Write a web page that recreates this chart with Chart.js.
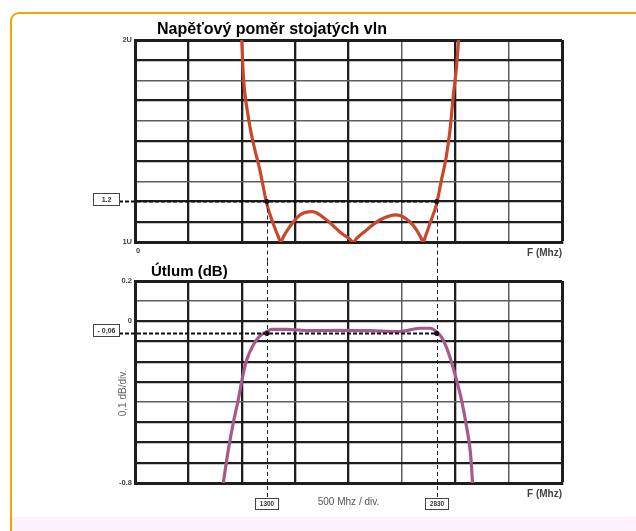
<!DOCTYPE html>
<html lang="cs">
<head>
<meta charset="utf-8">
<script src="https://cdn.jsdelivr.net/npm/chart.js@4.4.0/dist/chart.umd.min.js"></script>
<style>
  html, body { margin: 0; padding: 0; background: #fff; }
  body { width: 636px; height: 531px; position: relative; overflow: hidden; }
  #ramecek { position: absolute; left: 10px; top: 12px; width: 700px; height: 600px;
             border: 2px solid #f2a400; border-radius: 9px; box-sizing: border-box; }
  #pas { position: absolute; left: 12px; top: 517px; width: 624px; height: 14px; background: #fdf1fb; }
  canvas { position: absolute; left: 0; }
  #grafSwr { top: 0; }
  #grafUtlum { top: 262px; }
</style>
</head>
<body>
<div id="ramecek"></div>
<div id="pas"></div>
<canvas id="grafSwr" width="636" height="262"></canvas>
<canvas id="grafUtlum" width="636" height="269"></canvas>
<script>
// === Data ===
const frekvenceSwr = [1000, 1014, 1061, 1108, 1170, 1234, 1295, 1340, 1364, 1392, 1451, 1545, 1660, 1795, 1919,
  2010, 2044, 2080, 2169, 2294, 2450, 2575, 2637, 2680, 2700, 2722, 2762, 2826, 2872, 2912, 2950, 2981, 3012, 3031];
const hodnotySwr = [2.0, 1.83, 1.62, 1.49, 1.356, 1.19, 1.09, 1.03, 1.0, 1.028, 1.076, 1.134, 1.15, 1.109, 1.05,
  1.015, 1.0, 1.02, 1.06, 1.109, 1.134, 1.10, 1.06, 1.02, 1.0, 1.03, 1.09, 1.19, 1.31, 1.41, 1.55, 1.72, 1.87, 2.0];

const frekvenceUtlum = [827, 874, 920, 967, 1008, 1046, 1108, 1170, 1234, 1280, 1420, 1640, 1900, 2200,
  2480, 2668, 2762, 2826, 2887, 2949, 3012, 3059, 3106, 3143, 3162];
const hodnotyUtlum = [-0.80, -0.637, -0.504, -0.389, -0.274, -0.191, -0.117, -0.072, -0.051, -0.039, -0.039,
  -0.046, -0.044, -0.046, -0.050, -0.034, -0.034, -0.051, -0.092, -0.175, -0.29, -0.389, -0.521, -0.653, -0.80];

// značky: poloha na ose a jejich popisky
const znackyFrekvence = [1235, 2826];
const popiskyFrekvence = ['1300', '2830'];
const urovenSwr = 1.2;
const popisekSwr = '1.2';
const urovenUtlum = -0.06;
const popisekUtlum = '- 0,06';

const popiskySwrOsa = { 2: '2U', 1: '1U' };
const popiskyUtlumOsa = { 0.2: '0.2', 0: '0', '-0.8': '-0.8' };

const nadpisSwr = 'Napěťový poměr stojatých vln';
const nadpisUtlum = 'Útlum (dB)';
const popisOsyX = 'F (Mhz)';
const popisDilku = '500 Mhz / div.';
const popisDilkuY = '0,1 dB/div.';

// === Vzhled ===
const PISMO = '"Liberation Sans", Arial, sans-serif';
const BARVA_SWR = '#c9472d';
const BARVA_UTLUM = '#a65a8b';

function zaokrouhli(v) {
  return Math.round(v * 1000) / 1000;
}

function mrizka(tenke, krajni) {
  return {
    color: c => (c.tick && tenke.includes(zaokrouhli(c.tick.value)) ? '#5e5e5e' : '#1e1e1e'),
    lineWidth: c => {
      if (!c.tick) return 2;
      const v = zaokrouhli(c.tick.value);
      if (krajni.includes(v)) return 3;
      return tenke.includes(v) ? 1.5 : 2.3;
    },
    drawTicks: false,
  };
}

function osaX(sPopiskem, vyska) {
  return {
    type: 'linear',
    min: 0,
    max: 4000,
    afterFit: s => { s.height = vyska; },
    grid: mrizka([2500, 3500], [4000]),
    border: { color: '#1e1e1e', width: 3 },
    ticks: {
      stepSize: 500,
      autoSkip: false,
      maxRotation: 0,
      padding: 4,
      labelOffset: 3,
      display: sPopiskem,
      color: '#444',
      font: { family: PISMO, size: 7.5, weight: 'bold' },
      callback: v => (v === 0 ? '0' : ''),
    },
  };
}

function osaY(min, max, popisky, tenke) {
  return {
    min,
    max,
    afterFit: s => { s.width = 135; },
    grid: mrizka(tenke, [max]),
    border: { color: '#1e1e1e', width: 3 },
    ticks: {
      stepSize: 0.1,
      autoSkip: false,
      padding: 3,
      color: '#444',
      font: { family: PISMO, size: 7.5, weight: 'bold' },
      callback: v => popisky[zaokrouhli(v)] || '',
    },
  };
}

function ramecekPopisku(ctx, text, cx, cy, w, h, velikost) {
  ctx.save();
  ctx.setLineDash([]);
  ctx.fillStyle = '#fff';
  ctx.strokeStyle = '#444';
  ctx.lineWidth = 1;
  const x = Math.round(cx - w / 2) + 0.5;
  const y = Math.round(cy - h / 2) + 0.5;
  ctx.fillRect(x, y, w, h);
  ctx.strokeRect(x, y, w, h);
  ctx.fillStyle = '#333';
  ctx.font = 'bold ' + velikost + 'px ' + PISMO;
  ctx.textAlign = 'center';
  ctx.textBaseline = 'middle';
  ctx.fillText(text, x + w / 2, y + h / 2 + 0.5);
  ctx.restore();
}

function tecka(ctx, x, y) {
  ctx.save();
  ctx.fillStyle = '#111';
  ctx.beginPath();
  ctx.arc(x, y, 2.5, 0, Math.PI * 2);
  ctx.fill();
  ctx.restore();
}

function vodorovnaCara(ctx, x1, x2, y) {
  ctx.save();
  ctx.strokeStyle = '#111';
  ctx.lineWidth = 2;
  ctx.setLineDash([4, 2]);
  ctx.beginPath();
  ctx.moveTo(x1, y);
  ctx.lineTo(x2, y);
  ctx.stroke();
  ctx.restore();
}

function svislaCara(ctx, x, y1, y2) {
  ctx.save();
  ctx.strokeStyle = '#222';
  ctx.lineWidth = 1;
  ctx.setLineDash([4, 3]);
  const px = Math.round(x) + 0.5;
  ctx.beginPath();
  ctx.moveTo(px, y1);
  ctx.lineTo(px, y2);
  ctx.stroke();
  ctx.restore();
}

function popisekF(ctx, area) {
  ctx.save();
  ctx.fillStyle = '#444';
  ctx.font = 'bold 10px ' + PISMO;
  ctx.textAlign = 'right';
  ctx.textBaseline = 'middle';
  ctx.fillText(popisOsyX, area.right, area.bottom + 11);
  ctx.restore();
}

function nadpis(ctx, text, x, y, velikost) {
  ctx.save();
  ctx.fillStyle = '#000';
  ctx.font = 'bold ' + velikost + 'px ' + PISMO;
  ctx.textAlign = 'left';
  ctx.textBaseline = 'alphabetic';
  ctx.fillText(text, x, y);
  ctx.restore();
}

// === Popisky horního grafu ===
const pluginSwr = {
  id: 'popiskySwr',
  afterDatasetsDraw(chart) {
    const ctx = chart.ctx;
    const { x, y } = chart.scales;
    const area = chart.chartArea;
    const yUroven = y.getPixelForValue(urovenSwr);
    const xBody = znackyFrekvence.map(f => x.getPixelForValue(f));

    nadpis(ctx, nadpisSwr, area.left + 22, area.top - 6, 16);
    vodorovnaCara(ctx, 119, xBody[1], yUroven);
    xBody.forEach(px => svislaCara(ctx, px, yUroven, chart.height));
    xBody.forEach(px => tecka(ctx, px, yUroven));
    ramecekPopisku(ctx, popisekSwr, 106, yUroven - 3, 26, 12, 7);
    popisekF(ctx, area);
  },
};

// === Popisky dolního grafu ===
const pluginUtlum = {
  id: 'popiskyUtlum',
  afterDatasetsDraw(chart) {
    const ctx = chart.ctx;
    const { x, y } = chart.scales;
    const area = chart.chartArea;
    const yUroven = y.getPixelForValue(urovenUtlum);
    const xBody = znackyFrekvence.map(f => x.getPixelForValue(f));

    nadpis(ctx, nadpisUtlum, area.left + 16, area.top - 5, 15);
    vodorovnaCara(ctx, 119, xBody[1], yUroven);
    xBody.forEach(px => svislaCara(ctx, px, 0, area.bottom + 15));
    xBody.forEach(px => tecka(ctx, px, yUroven));
    ramecekPopisku(ctx, popisekUtlum, 106, yUroven - 3.5, 26, 12, 7);
    xBody.forEach((px, i) => ramecekPopisku(ctx, popiskyFrekvence[i], px, area.bottom + 20.5, 23, 11, 6.5));
    popisekF(ctx, area);

    ctx.save();
    ctx.fillStyle = '#555';
    ctx.font = '10px ' + PISMO;
    ctx.textAlign = 'center';
    ctx.textBaseline = 'middle';
    ctx.fillText(popisDilku, (area.left + area.right) / 2, area.bottom + 19);
    ctx.translate(area.left - 12, area.top + 112);
    ctx.rotate(-Math.PI / 2);
    ctx.fillStyle = '#666';
    ctx.fillText(popisDilkuY, 0, 0);
    ctx.restore();
  },
};

function vytvorGraf(id, frekvence, hodnoty, barva, osy, padding, plugin) {
  return new Chart(document.getElementById(id), {
    type: 'line',
    data: {
      datasets: [{
        data: frekvence.map((f, i) => ({ x: f, y: hodnoty[i] })),
        borderColor: barva,
        borderWidth: 3.2,
        pointRadius: 0,
        fill: false,
        cubicInterpolationMode: 'monotone',
      }],
    },
    options: {
      responsive: false,
      animation: false,
      events: [],
      layout: { padding },
      plugins: { legend: { display: false }, tooltip: { enabled: false } },
      scales: osy,
    },
    plugins: [plugin],
  });
}

vytvorGraf('grafSwr', frekvenceSwr, hodnotySwr, BARVA_SWR,
  { x: osaX(true, 20), y: osaY(1, 2, popiskySwrOsa, [1.3, 1.6, 1.8]) },
  { left: 0, right: 74, top: 40, bottom: 0 }, pluginSwr);

vytvorGraf('grafUtlum', frekvenceUtlum, hodnotyUtlum, BARVA_UTLUM,
  { x: osaX(false, 48), y: osaY(-0.8, 0.2, popiskyUtlumOsa, [0.1, -0.4]) },
  { left: 0, right: 74, top: 19, bottom: 0 }, pluginUtlum);
</script>
</body>
</html>
